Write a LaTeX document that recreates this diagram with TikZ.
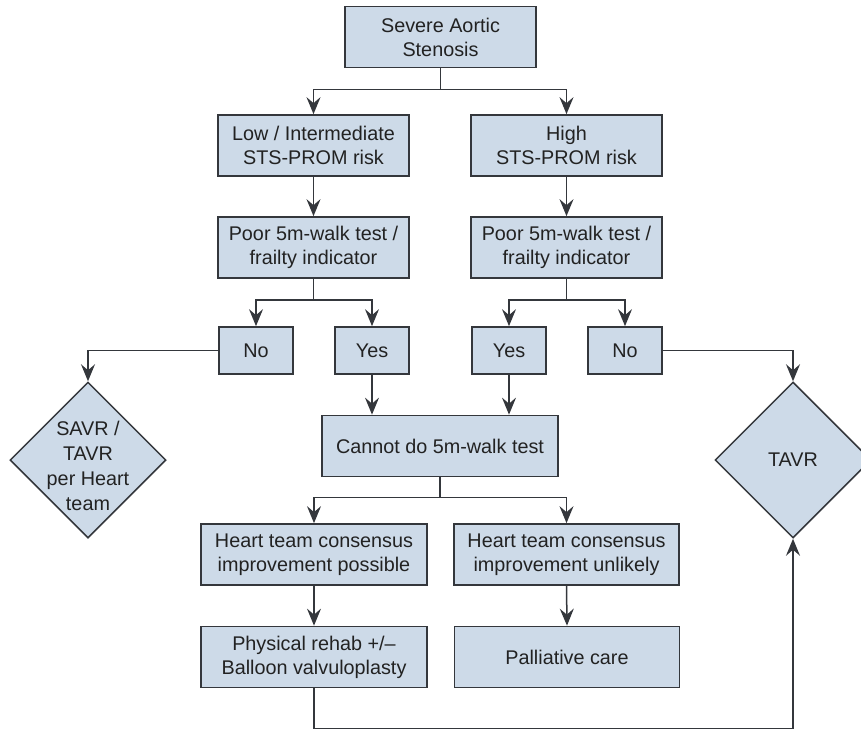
\documentclass[tikz,border=0pt]{standalone}
\usepackage{fontspec}
\setmainfont{Liberation Sans}
\usetikzlibrary{shapes.geometric,arrows.meta}
\definecolor{boxfill}{HTML}{CDDAE8}
\definecolor{edgecol}{HTML}{34373C}
\definecolor{txt}{HTML}{222222}
\begin{document}
\begin{tikzpicture}[x=1pt,y=-1pt,
  box/.style={draw=edgecol, line width=1.7pt, fill=boxfill, inner sep=0pt, align=center,
    font=\fontsize{19.8}{24}\selectfont, text=txt},
  wide/.style={box, minimum width=191pt, minimum height=61pt},
  small/.style={box, minimum width=74pt, minimum height=47pt},
  dia/.style={diamond, draw=edgecol, line width=1.5pt, fill=boxfill, inner sep=0pt,
    aspect=1, minimum width=156pt, minimum height=156pt},
  diatext/.style={align=center, font=\fontsize{19.8}{25}\selectfont, text=txt, inner sep=0pt},
  conn/.style={draw=edgecol, line width=1.5pt},
  arr/.style={conn, -{Stealth[length=17pt,width=14pt,inset=6pt]}}]
\useasboundingbox (0,0) rectangle (861,730);

% boxes
\node[wide] (sas) at (440.5,37) {Severe Aortic\\Stenosis};
\node[wide] (low) at (313.5,145.5) {Low / Intermediate\\STS-PROM risk};
\node[wide] (high) at (566.5,145.5) {High\\STS-PROM risk};
\node[wide] (poorL) at (313.5,247.5) {Poor 5m-walk test /\\frailty indicator};
\node[wide] (poorR) at (566.5,247.5) {Poor 5m-walk test /\\frailty indicator};
\node[small] (noL) at (256,350.5) {No};
\node[small] (yesL) at (372,350.5) {Yes};
\node[small] (yesR) at (509,350.5) {Yes};
\node[small] (noR) at (625,350.5) {No};
\node[box, minimum width=236pt, minimum height=61pt] (cannot) at (440,446) {Cannot do 5m-walk test};
\node[box, minimum width=226pt, minimum height=61pt] (heartL) at (314,554.5) {Heart team consensus\\improvement possible};
\node[box, minimum width=225pt, minimum height=61pt] (heartR) at (566.5,554.5) {Heart team consensus\\improvement unlikely};
\node[box, minimum width=226pt, minimum height=61pt] (phys) at (314,657) {Physical rehab +/–\\Balloon valvuloplasty};
\node[box, minimum width=225pt, minimum height=61pt] (pall) at (567,657) {Palliative care};

% diamonds
\node[dia] (savr) at (88,460) {};
\node[diatext] (savrt) at (88,466) {SAVR /\\TAVR\\per Heart\\team};
\node[dia] (tavr) at (793,460) {};
\node[diatext] (tavrt) at (793,460) {TAVR};

% connectors
\draw[conn] (sas.south) -- ++(0,21) coordinate (s1);
\draw[arr] (s1) -| (low.north);
\draw[arr] (s1) -| (high.north);
\draw[arr] (low.south) -- (poorL.north);
\draw[arr] (high.south) -- (poorR.north);

\draw[conn] (poorL.south) -- ++(0,21) coordinate (s2);
\draw[arr] (s2) -| (noL.north);
\draw[arr] (s2) -| (yesL.north);
\draw[conn] (poorR.south) -- ++(0,21) coordinate (s3);
\draw[arr] (s3) -| (yesR.north);
\draw[arr] (s3) -| (noR.north);

\draw[arr] (noL.west) -| (savr.north);
\draw[arr] (noR.east) -| (tavr.north);
\draw[arr] (yesL.south) -- (yesL.south |- cannot.north);
\draw[arr] (yesR.south) -- (yesR.south |- cannot.north);

\draw[conn] (cannot.south) -- ++(0,20) coordinate (s4);
\draw[arr] (s4) -| (heartL.north);
\draw[arr] (s4) -| (heartR.north);
\draw[arr] (heartL.south) -- (phys.north);
\draw[arr] (heartR.south) -- (pall.north);

\draw[arr] (phys.south) -- ++(0,40) coordinate (s5) -| (tavr.south);
\end{tikzpicture}
\end{document}
